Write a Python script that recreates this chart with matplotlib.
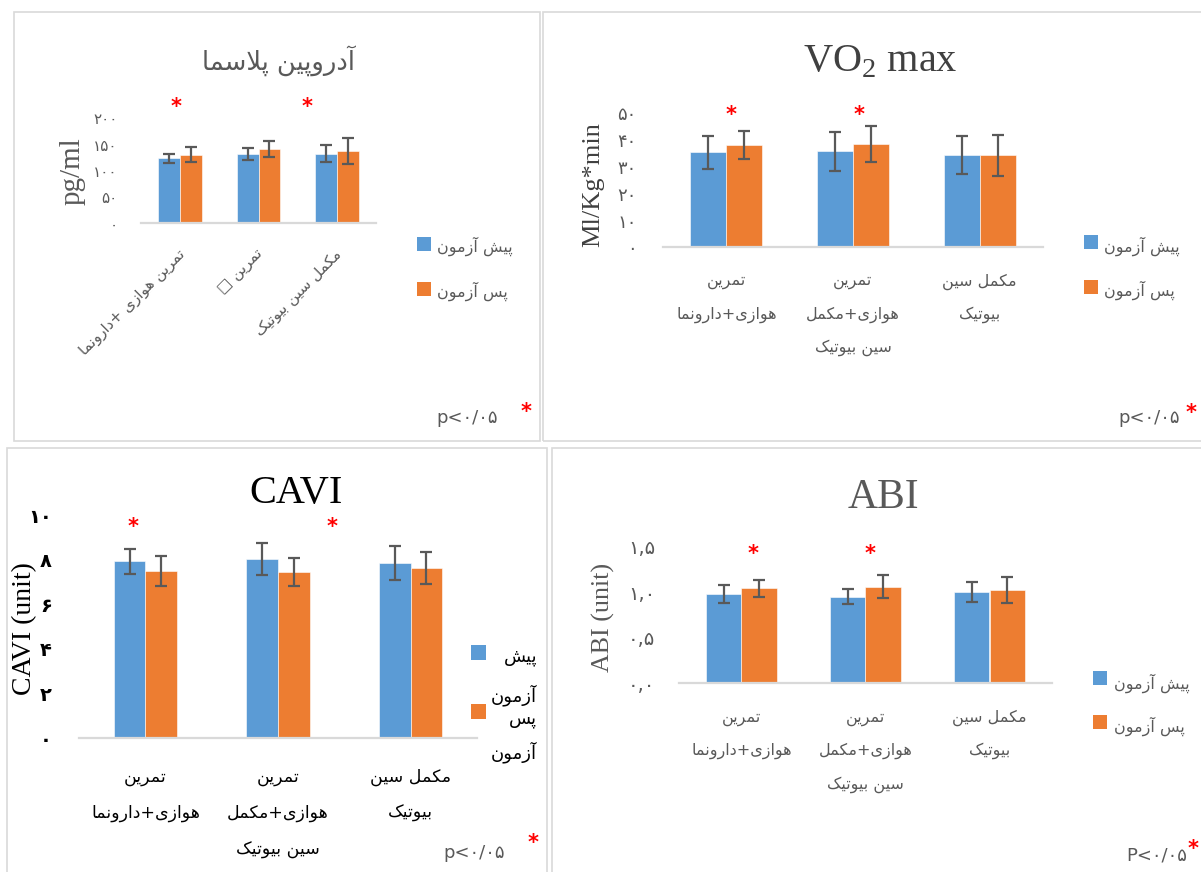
import numpy as np
import matplotlib
matplotlib.use('Agg')
import matplotlib.pyplot as plt
from matplotlib.patches import Rectangle
from matplotlib import transforms

plt.rcParams['font.family'] = ['DejaVu Sans']
plt.rcParams['mathtext.fontset'] = 'custom'
plt.rcParams['mathtext.rm'] = 'Liberation Serif'

BLUE = '#5B9BD5'
ORANGE = '#ED7D31'
GRAY = '#595959'
ERR = '#595959'
LINE = '#D9D9D9'
SERIF = 'Liberation Serif'

# ---------------- data ----------------
labels_rot = ['تمرین هوازی +دارونما', 'تمرین □', 'مکمل سین بیوتیک']
labels_ml = [['تمرین', 'هوازی+دارونما'],
             ['تمرین', 'هوازی+مکمل', 'سین بیوتیک'],
             ['مکمل سین', 'بیوتیک']]
legend_pre = 'پیش آزمون'
legend_post = 'پس آزمون'

adro_pre = [124, 132, 133]
adro_pre_sd = [9, 12, 16]
adro_post = [131, 142, 138]
adro_post_sd = [15, 15, 25]

vo2_pre = [35.5, 35.8, 34.4]
vo2_pre_sd = [6.1, 7.4, 7.2]
vo2_post = [38.1, 38.6, 34.4]
vo2_post_sd = [5.3, 6.6, 7.6]

cavi_pre = [7.93, 8.03, 7.85]
cavi_pre_sd = [0.55, 0.73, 0.77]
cavi_post = [7.49, 7.45, 7.64]
cavi_post_sd = [0.69, 0.61, 0.72]

abi_pre = [0.98, 0.95, 1.0]
abi_pre_sd = [0.10, 0.085, 0.11]
abi_post = [1.04, 1.06, 1.025]
abi_post_sd = [0.095, 0.13, 0.14]

adro_ticks = [0, 50, 100, 150, 200]
adro_ticklabels = ['۰', '۵۰', '۱۰۰', '۱۵۰', '۲۰۰']
vo2_ticks = [0, 10, 20, 30, 40, 50]
vo2_ticklabels = ['۰', '۱۰', '۲۰', '۳۰', '۴۰', '۵۰']
cavi_ticks = [0, 2, 4, 6, 8, 10]
cavi_ticklabels = ['۰', '۲', '۴', '۶', '۸', '۱۰']
abi_ticks = [0, 0.5, 1.0, 1.5]
abi_ticklabels = ['۰,۰', '۰,۵', '۱,۰', '۱,۵']

# significance stars (category position, value)
adro_star_x = [-0.05, 1.615]
adro_star_y = 234
vo2_star_x = [0.04, 1.05]
vo2_star_y = 51.9
cavi_star_x = [-0.09, 1.41]
cavi_star_y = 9.75
abi_star_x = [0.094, 1.04]
abi_star_y = 1.496

# --------- minimal Persian shaping (DejaVu presentation forms) ---------
FORMS = {
    'ا': ('\uFE8D', '\uFE8E', None, None),
    'آ': ('\uFE81', '\uFE82', None, None),
    'ب': ('\uFE8F', '\uFE90', '\uFE91', '\uFE92'),
    'پ': ('\uFB56', '\uFB57', '\uFB58', '\uFB59'),
    'ت': ('\uFE95', '\uFE96', '\uFE97', '\uFE98'),
    'د': ('\uFEA9', '\uFEAA', None, None),
    'ر': ('\uFEAD', '\uFEAE', None, None),
    'ز': ('\uFEAF', '\uFEB0', None, None),
    'س': ('\uFEB1', '\uFEB2', '\uFEB3', '\uFEB4'),
    'ش': ('\uFEB5', '\uFEB6', '\uFEB7', '\uFEB8'),
    'ک': ('\uFB8E', '\uFB8F', '\uFB90', '\uFB91'),
    'ل': ('\uFEDD', '\uFEDE', '\uFEDF', '\uFEE0'),
    'م': ('\uFEE1', '\uFEE2', '\uFEE3', '\uFEE4'),
    'ن': ('\uFEE5', '\uFEE6', '\uFEE7', '\uFEE8'),
    'ه': ('\uFEE9', '\uFEEA', '\uFEEB', '\uFEEC'),
    'و': ('\uFEED', '\uFEEE', None, None),
    'ی': ('\uFBFC', '\uFBFD', '\uFBFE', '\uFBFF'),
}
LAM_ALEF = {'ا': ('\uFEFB', '\uFEFC'), 'آ': ('\uFEF5', '\uFEF6')}


def dual(c):
    return c in FORMS and FORMS[c][2] is not None


def fa(text):
    res = []
    n = len(text)
    i = 0
    while i < n:
        c = text[i]
        if c not in FORMS:
            res.append(c)
            i += 1
            continue
        conn_prev = i > 0 and dual(text[i - 1])
        if c == 'ل' and i + 1 < n and text[i + 1] in LAM_ALEF:
            res.append(LAM_ALEF[text[i + 1]][1 if conn_prev else 0])
            i += 2
            continue
        conn_next = dual(c) and i + 1 < n and text[i + 1] in FORMS
        iso, fin, ini, med = FORMS[c]
        if conn_prev and conn_next:
            res.append(med)
        elif conn_prev:
            res.append(fin)
        elif conn_next:
            res.append(ini)
        else:
            res.append(iso)
        i += 1
    return ''.join(reversed(res))


# ---------------- figure ----------------
W, H = 1201, 872
fig = plt.figure(figsize=(W / 100, H / 100), dpi=100)


def fx(x):
    return x / W


def fy(y):
    return 1 - y / H


def ftext(x, y, s, **kw):
    return fig.text(fx(x), fy(y), s, **kw)


def frame(x0, y0, x1, y1):
    fig.add_artist(Rectangle((fx(x0), fy(y1)), fx(x1) - fx(x0), fy(y0) - fy(y1),
                             transform=fig.transFigure, fill=False,
                             edgecolor=LINE, linewidth=1.2))


def square(x, y, color, size=14):
    fig.add_artist(Rectangle((fx(x - size / 2), fy(y + size / 2)), size / W, size / H,
                             transform=fig.transFigure, color=color, linewidth=0))


def panel(box, pre, pre_sd, post, post_sd, width, ymax, ticks, ticklabels, tick_kw, pad):
    x0, x1, ybot, ytop = box
    ax = fig.add_axes([fx(x0), fy(ybot), fx(x1) - fx(x0), fy(ytop) - fy(ybot)])
    x = np.arange(3)
    ax.bar(x - width / 2, pre, width, color=BLUE, edgecolor='white', linewidth=0.4)
    ax.bar(x + width / 2, post, width, color=ORANGE, edgecolor='white', linewidth=0.4)
    for xs, ys, es in [(x - width / 2, pre, pre_sd), (x + width / 2, post, post_sd)]:
        ax.errorbar(xs, ys, yerr=es, fmt='none', ecolor=ERR, elinewidth=1.6,
                    capsize=4.5, capthick=1.6)
    ax.set_xlim(-0.5, 2.5)
    ax.set_ylim(0, ymax)
    for s in ['top', 'right', 'left']:
        ax.spines[s].set_visible(False)
    ax.spines['bottom'].set_color(LINE)
    ax.spines['bottom'].set_linewidth(1.6)
    ax.set_xticks([])
    ax.set_yticks(ticks)
    ax.set_yticklabels(ticklabels, **tick_kw)
    ax.tick_params(axis='y', length=0, pad=pad)
    ax.patch.set_alpha(0)
    return ax


def stars(ax, xs, y, fs=15):
    for xv in xs:
        ax.annotate('*', xy=(xv, y), xytext=(0, -0.62 * fs), textcoords='offset points',
                    ha='center', va='baseline', color='red', fontsize=fs,
                    fontweight='bold', annotation_clip=False)


def ml_labels(ax, rows_y, fs, color):
    tr = transforms.blended_transform_factory(ax.transData, fig.transFigure)
    for i, lines in enumerate(labels_ml):
        for line, y in zip(lines, rows_y):
            ax.text(i, fy(y), fa(line), transform=tr, ha='center', va='center',
                    fontsize=fs, color=color)


# panel frames
frame(14, 12, 540, 441)
frame(543, 12, 1215, 441)
frame(7, 448, 547, 885)
frame(552, 448, 1215, 885)

# ---- panel 1: adropin ----
ax1 = panel((141, 376, 223.5, 118.3), adro_pre, adro_pre_sd, adro_post, adro_post_sd,
            0.28, 200, adro_ticks, adro_ticklabels, dict(fontsize=11, color=GRAY), 17)
stars(ax1, adro_star_x, adro_star_y)
tr1 = transforms.blended_transform_factory(ax1.transData, fig.transFigure)
for i, lab in enumerate(labels_rot):
    ax1.text(i + 0.03, fy(252), fa(lab), transform=tr1, rotation=45, rotation_mode='anchor',
             ha='right', va='center', fontsize=11, color=GRAY)
ftext(278, 61, fa('آدروپین پلاسما'), ha='center', va='center', fontsize=18.5, color=GRAY)
ftext(73, 171, 'pg/ml', family=SERIF, rotation=90, ha='center', va='center',
      fontsize=21, color=GRAY)
square(424, 244, BLUE)
square(424, 289, ORANGE)
ftext(437, 246, fa(legend_pre), ha='left', va='center', fontsize=11.5, color=GRAY)
ftext(437, 291, fa(legend_post), ha='left', va='center', fontsize=11.5, color=GRAY)
ftext(436, 418, 'p<۰/۰۵', ha='left', va='center', fontsize=13, color=GRAY)
ftext(526, 412, '*', ha='center', va='center', fontsize=15, color='red', fontweight='bold')

# ---- panel 2: VO2 max ----
ax2 = panel((663, 1043, 247.5, 113.3), vo2_pre, vo2_pre_sd, vo2_post, vo2_post_sd,
            0.284, 50, vo2_ticks, vo2_ticklabels, dict(fontsize=13, color=GRAY), 19)
stars(ax2, vo2_star_x, vo2_star_y)
ml_labels(ax2, [281.7, 315, 348], 11.5, GRAY)
ftext(880, 71.7, r'VO$_\mathrm{2}$ max', family=SERIF, ha='center', va='baseline',
      fontsize=29, color='#404040')
ftext(593, 185, 'Ml/Kg*min', family=SERIF, rotation=90, ha='center', va='center',
      fontsize=19, color='#404040')
square(1091, 242, BLUE)
square(1091, 287, ORANGE)
ftext(1104, 246, fa(legend_pre), ha='left', va='center', fontsize=11.5, color=GRAY)
ftext(1104, 290, fa(legend_post), ha='left', va='center', fontsize=11.5, color=GRAY)
ftext(1118, 418, 'p<۰/۰۵', ha='left', va='center', fontsize=13, color=GRAY)
ftext(1191, 413, '*', ha='center', va='center', fontsize=15, color='red', fontweight='bold')

# ---- panel 3: CAVI ----
ax3 = panel((79, 477, 738.3, 515), cavi_pre, cavi_pre_sd, cavi_post, cavi_post_sd,
            0.238, 10, cavi_ticks, cavi_ticklabels,
            dict(fontsize=14, color='black', fontweight='bold'), 19.5)
stars(ax3, cavi_star_x, cavi_star_y)
ml_labels(ax3, [776.7, 813.3, 850], 12.5, 'black')
ftext(296, 503.3, 'CAVI', family=SERIF, ha='center', va='baseline', fontsize=29,
      color='black')
ftext(25, 629, 'CAVI (unit)', family=SERIF, rotation=90, ha='center', va='center',
      fontsize=20, color='black')
square(478.5, 652, BLUE, 15)
square(478.5, 711.7, ORANGE, 15)
pre_words = legend_pre.split(' ')
post_words = legend_post.split(' ')
for word, y in zip(pre_words + post_words, [657, 695, 719, 752]):
    ftext(537, y, fa(word), ha='right', va='center', fontsize=13, color='black')
ftext(443, 853, 'p<۰/۰۵', ha='left', va='center', fontsize=13, color=GRAY)
ftext(533, 843, '*', ha='center', va='center', fontsize=15, color='red', fontweight='bold')

# ---- panel 4: ABI ----
ax4 = panel((679.5, 1051.5, 683.3, 546.5), abi_pre, abi_pre_sd, abi_post, abi_post_sd,
            0.285, 1.5, abi_ticks, abi_ticklabels, dict(fontsize=14, color=GRAY), 17.5)
stars(ax4, abi_star_x, abi_star_y)
ml_labels(ax4, [718, 751, 785], 11.5, GRAY)
ftext(883.5, 507.7, 'ABI', family=SERIF, ha='center', va='baseline', fontsize=30,
      color=GRAY)
ftext(603, 617, 'ABI (unit)', family=SERIF, rotation=90, ha='center', va='center',
      fontsize=18.7, color=GRAY)
square(1100, 677.7, BLUE)
square(1100, 722, ORANGE)
ftext(1114, 683, fa(legend_pre), ha='left', va='center', fontsize=11.5, color=GRAY)
ftext(1114, 726.7, fa(legend_post), ha='left', va='center', fontsize=11.5, color=GRAY)
ftext(1126, 855, 'P<۰/۰۵', ha='left', va='center', fontsize=13, color=GRAY)
ftext(1193, 849, '*', ha='center', va='center', fontsize=15, color='red', fontweight='bold')

fig.savefig('out.png', dpi=100)
